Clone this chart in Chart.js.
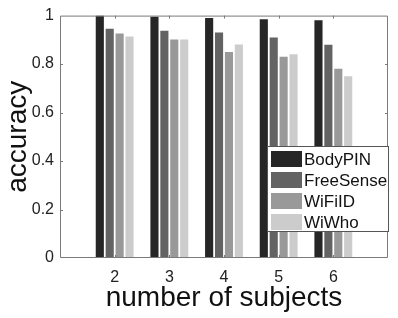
<!DOCTYPE html>
<html>
<head>
<meta charset="utf-8">
<script src="https://cdn.jsdelivr.net/npm/chart.js@4"></script>
<style>
  html, body { margin: 0; padding: 0; background: #fff; }
  #wrap { width: 398px; height: 318px; }
</style>
</head>
<body>
<div id="wrap"><canvas id="chart" width="398" height="318"></canvas></div>
<script>
// values
const subjects = [2, 3, 4, 5, 6];
const bodyPIN = [1.0, 0.995, 0.99, 0.985, 0.981];
const freeSense = [0.946, 0.937, 0.930, 0.910, 0.880];
const wifiID = [0.926, 0.901, 0.850, 0.830, 0.781];
const wiWho = [0.914, 0.901, 0.881, 0.841, 0.750];
const seriesNames = ['BodyPIN', 'FreeSense', 'WiFiID', 'WiWho'];
const seriesColors = ['#262626', '#636363', '#999999', '#cccccc'];

const FONT = 'Liberation Sans, Helvetica, Arial, sans-serif';
const FRAME = '#7a7a7a';

const toPoints = (vals) => vals.map((v, i) => ({ x: subjects[i], y: v }));

// box around the axes + inward tick marks (matlab style)
const framePlugin = {
    id: 'frame',
    afterDatasetsDraw(chart) {
        const { ctx, chartArea: a, scales } = chart;
        ctx.save();
        ctx.strokeStyle = FRAME;
        ctx.lineWidth = 1;
        ctx.beginPath();
        ctx.rect(a.left + 0.5, a.top + 0.5, a.right - a.left - 1, a.bottom - a.top - 1);
        const tl = 3;
        subjects.forEach(s => {
            const x = Math.round(scales.x.getPixelForValue(s)) + 0.5;
            ctx.moveTo(x, a.bottom); ctx.lineTo(x, a.bottom - tl);
            ctx.moveTo(x, a.top); ctx.lineTo(x, a.top + tl);
        });
        [0.2, 0.4, 0.6, 0.8].forEach(v => {
            const y = Math.round(scales.y.getPixelForValue(v)) + 0.5;
            ctx.moveTo(a.left, y); ctx.lineTo(a.left + tl, y);
            ctx.moveTo(a.right, y); ctx.lineTo(a.right - tl, y);
        });
        ctx.stroke();
        ctx.restore();
    }
};

// legend box inside the plot, lower right
const boxLegend = {
    id: 'boxLegend',
    afterDraw(chart) {
        const ctx = chart.ctx;
        const x0 = 267, y0 = 146, w = 121, h = 85;
        ctx.save();
        ctx.fillStyle = '#fff';
        ctx.fillRect(x0, y0, w, h);
        ctx.strokeStyle = '#555';
        ctx.lineWidth = 1;
        ctx.strokeRect(x0 + 0.5, y0 + 0.5, w, h);
        ctx.font = '17px ' + FONT;
        ctx.textBaseline = 'middle';
        chart.data.datasets.forEach((ds, i) => {
            const cy = 159 + i * 21;
            ctx.fillStyle = ds.backgroundColor;
            ctx.fillRect(x0 + 4, cy - 8, 31, 16);
            ctx.fillStyle = '#111';
            ctx.fillText(ds.label, x0 + 37, cy + 1);
        });
        ctx.restore();
    }
};

new Chart(document.getElementById('chart'), {
    type: 'bar',
    data: {
        datasets: [bodyPIN, freeSense, wifiID, wiWho].map((vals, i) => ({
            label: seriesNames[i],
            data: toPoints(vals),
            backgroundColor: seriesColors[i],
            borderWidth: 0,
            categoryPercentage: 0.725,
            barPercentage: 0.82
        }))
    },
    options: {
        responsive: false,
        animation: false,
        layout: { padding: { top: 7, right: 4, left: 0, bottom: 0 } },
        plugins: { legend: { display: false }, tooltip: { enabled: false } },
        scales: {
            x: {
                type: 'linear',
                min: 1,
                max: 7,
                offset: false,
                afterFit: (s) => { s.height = 60; },
                grid: { display: false, drawTicks: false, offset: false },
                border: { display: false },
                ticks: {
                    stepSize: 1,
                    padding: 10,
                    color: '#222',
                    font: { family: FONT, size: 16 },
                    callback: (v) => subjects.includes(v) ? String(v) : ''
                },
                title: {
                    display: true,
                    text: 'number of subjects',
                    color: '#111',
                    font: { family: FONT, size: 28, lineHeight: 1 },
                    padding: { top: 0, bottom: 6 }
                }
            },
            y: {
                min: 0,
                max: 1,
                afterFit: (s) => { s.width = 60; },
                grid: { display: false, drawTicks: false },
                border: { display: false },
                ticks: {
                    stepSize: 0.2,
                    padding: 6,
                    color: '#222',
                    font: { family: FONT, size: 16 },
                    callback: (v) => String(+v.toFixed(1))
                },
                title: {
                    display: true,
                    text: 'accuracy',
                    color: '#111',
                    font: { family: FONT, size: 28, lineHeight: 1 },
                    padding: { top: 4, bottom: 0 }
                }
            }
        }
    },
    plugins: [framePlugin, boxLegend]
});
</script>
</body>
</html>
